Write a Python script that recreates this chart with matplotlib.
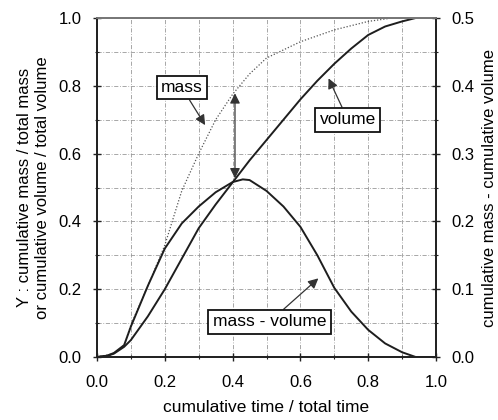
import matplotlib
matplotlib.use("Agg")
import matplotlib.pyplot as plt
from matplotlib.ticker import MultipleLocator

plt.rcParams["font.family"] = ["Liberation Sans", "DejaVu Sans"]

# values (cumulative time / total time)
t_mass = [0.0, 0.05, 0.08, 0.10, 0.15, 0.20, 0.25, 0.30, 0.35, 0.40,
          0.45, 0.50, 0.60, 0.70, 0.80, 0.87, 0.95, 1.0]
mass = [0.0, 0.01, 0.035, 0.095, 0.21, 0.33, 0.49, 0.60, 0.70, 0.775,
        0.835, 0.882, 0.93, 0.965, 0.99, 1.0, 1.0, 1.0]

t_vol = [0.0, 0.03, 0.05, 0.08, 0.10, 0.15, 0.20, 0.25, 0.30, 0.35, 0.40,
         0.45, 0.50, 0.55, 0.60, 0.65, 0.70, 0.75, 0.80, 0.85, 0.90, 0.94, 1.0]
volume = [0.0, 0.003, 0.01, 0.03, 0.05, 0.12, 0.20, 0.29, 0.38, 0.45, 0.515,
          0.58, 0.64, 0.70, 0.76, 0.815, 0.865, 0.91, 0.95, 0.975, 0.99, 1.0, 1.0]

# right axis units (0 - 0.5)
t_diff = [0.0, 0.03, 0.05, 0.08, 0.10, 0.15, 0.20, 0.25, 0.30, 0.35, 0.40,
          0.43, 0.45, 0.50, 0.55, 0.60, 0.65, 0.70, 0.75, 0.80, 0.85, 0.90,
          0.94, 1.0]
mass_minus_volume = [0.0, 0.002, 0.006, 0.0175, 0.045, 0.105, 0.16, 0.197,
                     0.222, 0.243, 0.258, 0.262, 0.261, 0.245, 0.222, 0.192,
                     0.15, 0.102, 0.067, 0.04, 0.02, 0.007, 0.0, 0.0]

fig = plt.figure(figsize=(4.98, 4.2), dpi=100)
ax = fig.add_axes([0.1948, 0.15, 0.6807, 0.8071])
ax2 = ax.twinx()

line_col = "#1e1e1e"
ax.plot(t_mass, mass, color="#555555", lw=0.9, ls=(0, (1, 1.5)))
ax.plot(t_vol, volume, color=line_col, lw=1.4)
ax2.plot(t_diff, mass_minus_volume, color=line_col, lw=1.4)

ax.set_xlim(0, 1)
ax.set_ylim(0, 1)
ax2.set_ylim(0, 0.5)

ax.xaxis.set_major_locator(MultipleLocator(0.2))
ax.xaxis.set_minor_locator(MultipleLocator(0.1))
ax.yaxis.set_major_locator(MultipleLocator(0.2))
ax.yaxis.set_minor_locator(MultipleLocator(0.1))
ax2.yaxis.set_major_locator(MultipleLocator(0.1))
ax2.yaxis.set_minor_locator(MultipleLocator(0.05))

ax.xaxis.set_major_formatter(lambda v, p: f"{v:.1f}")
ax.yaxis.set_major_formatter(lambda v, p: f"{v:.1f}")
ax2.yaxis.set_major_formatter(lambda v, p: f"{v:.1f}")

ax.grid(True, which="both", color="#999999", lw=0.6, ls=(0, (5, 2, 1, 2)))

for a in (ax, ax2):
    a.tick_params(which="major", direction="inout", length=6, width=1,
                  labelsize=12, color="#222222", pad=8)
    a.tick_params(which="minor", direction="inout", length=3.5, width=0.8,
                  color="#222222")
    for s in a.spines.values():
        s.set_linewidth(1.3)
        s.set_color("#222222")
ax.tick_params(axis="x", which="major", pad=10)
ax.spines["top"].set_color("#777777")
ax2.spines["top"].set_color("#777777")

ax.set_xlabel("cumulative time / total time", fontsize=12.5, labelpad=7)
ax.set_ylabel("Y : cumulative mass / total mass\nor cumulative volume / total volume",
              fontsize=12, linespacing=1.2)
ax2.set_ylabel("cumulative mass - cumulative volume", fontsize=12)
ax.yaxis.set_label_coords(-0.14, 0.5)
ax2.yaxis.set_label_coords(1.136, 0.5)

box = dict(boxstyle="square,pad=0.25", fc="white", ec="#111111", lw=1.3)
arr = dict(arrowstyle="-|>", color="#333333", lw=0.9, mutation_scale=15,
           shrinkA=0, shrinkB=0)

ax.annotate("mass", xy=(0.319, 0.684), xytext=(0.25, 0.795),
            ha="center", va="center", fontsize=12.5, bbox=box, arrowprops=arr)
ax.annotate("volume", xy=(0.683, 0.822), xytext=(0.74, 0.70),
            ha="center", va="center", fontsize=12.5, bbox=box, arrowprops=arr)
ax.annotate("mass - volume", xy=(0.653, 0.232), xytext=(0.509, 0.104),
            ha="center", va="center", fontsize=12.5, bbox=box, arrowprops=arr)
ax.annotate("", xy=(0.407, 0.778), xytext=(0.407, 0.527),
            arrowprops=dict(arrowstyle="<|-|>", color="#333333", lw=0.9,
                            mutation_scale=15, shrinkA=0, shrinkB=0))

fig.savefig("out.png", dpi=100)
